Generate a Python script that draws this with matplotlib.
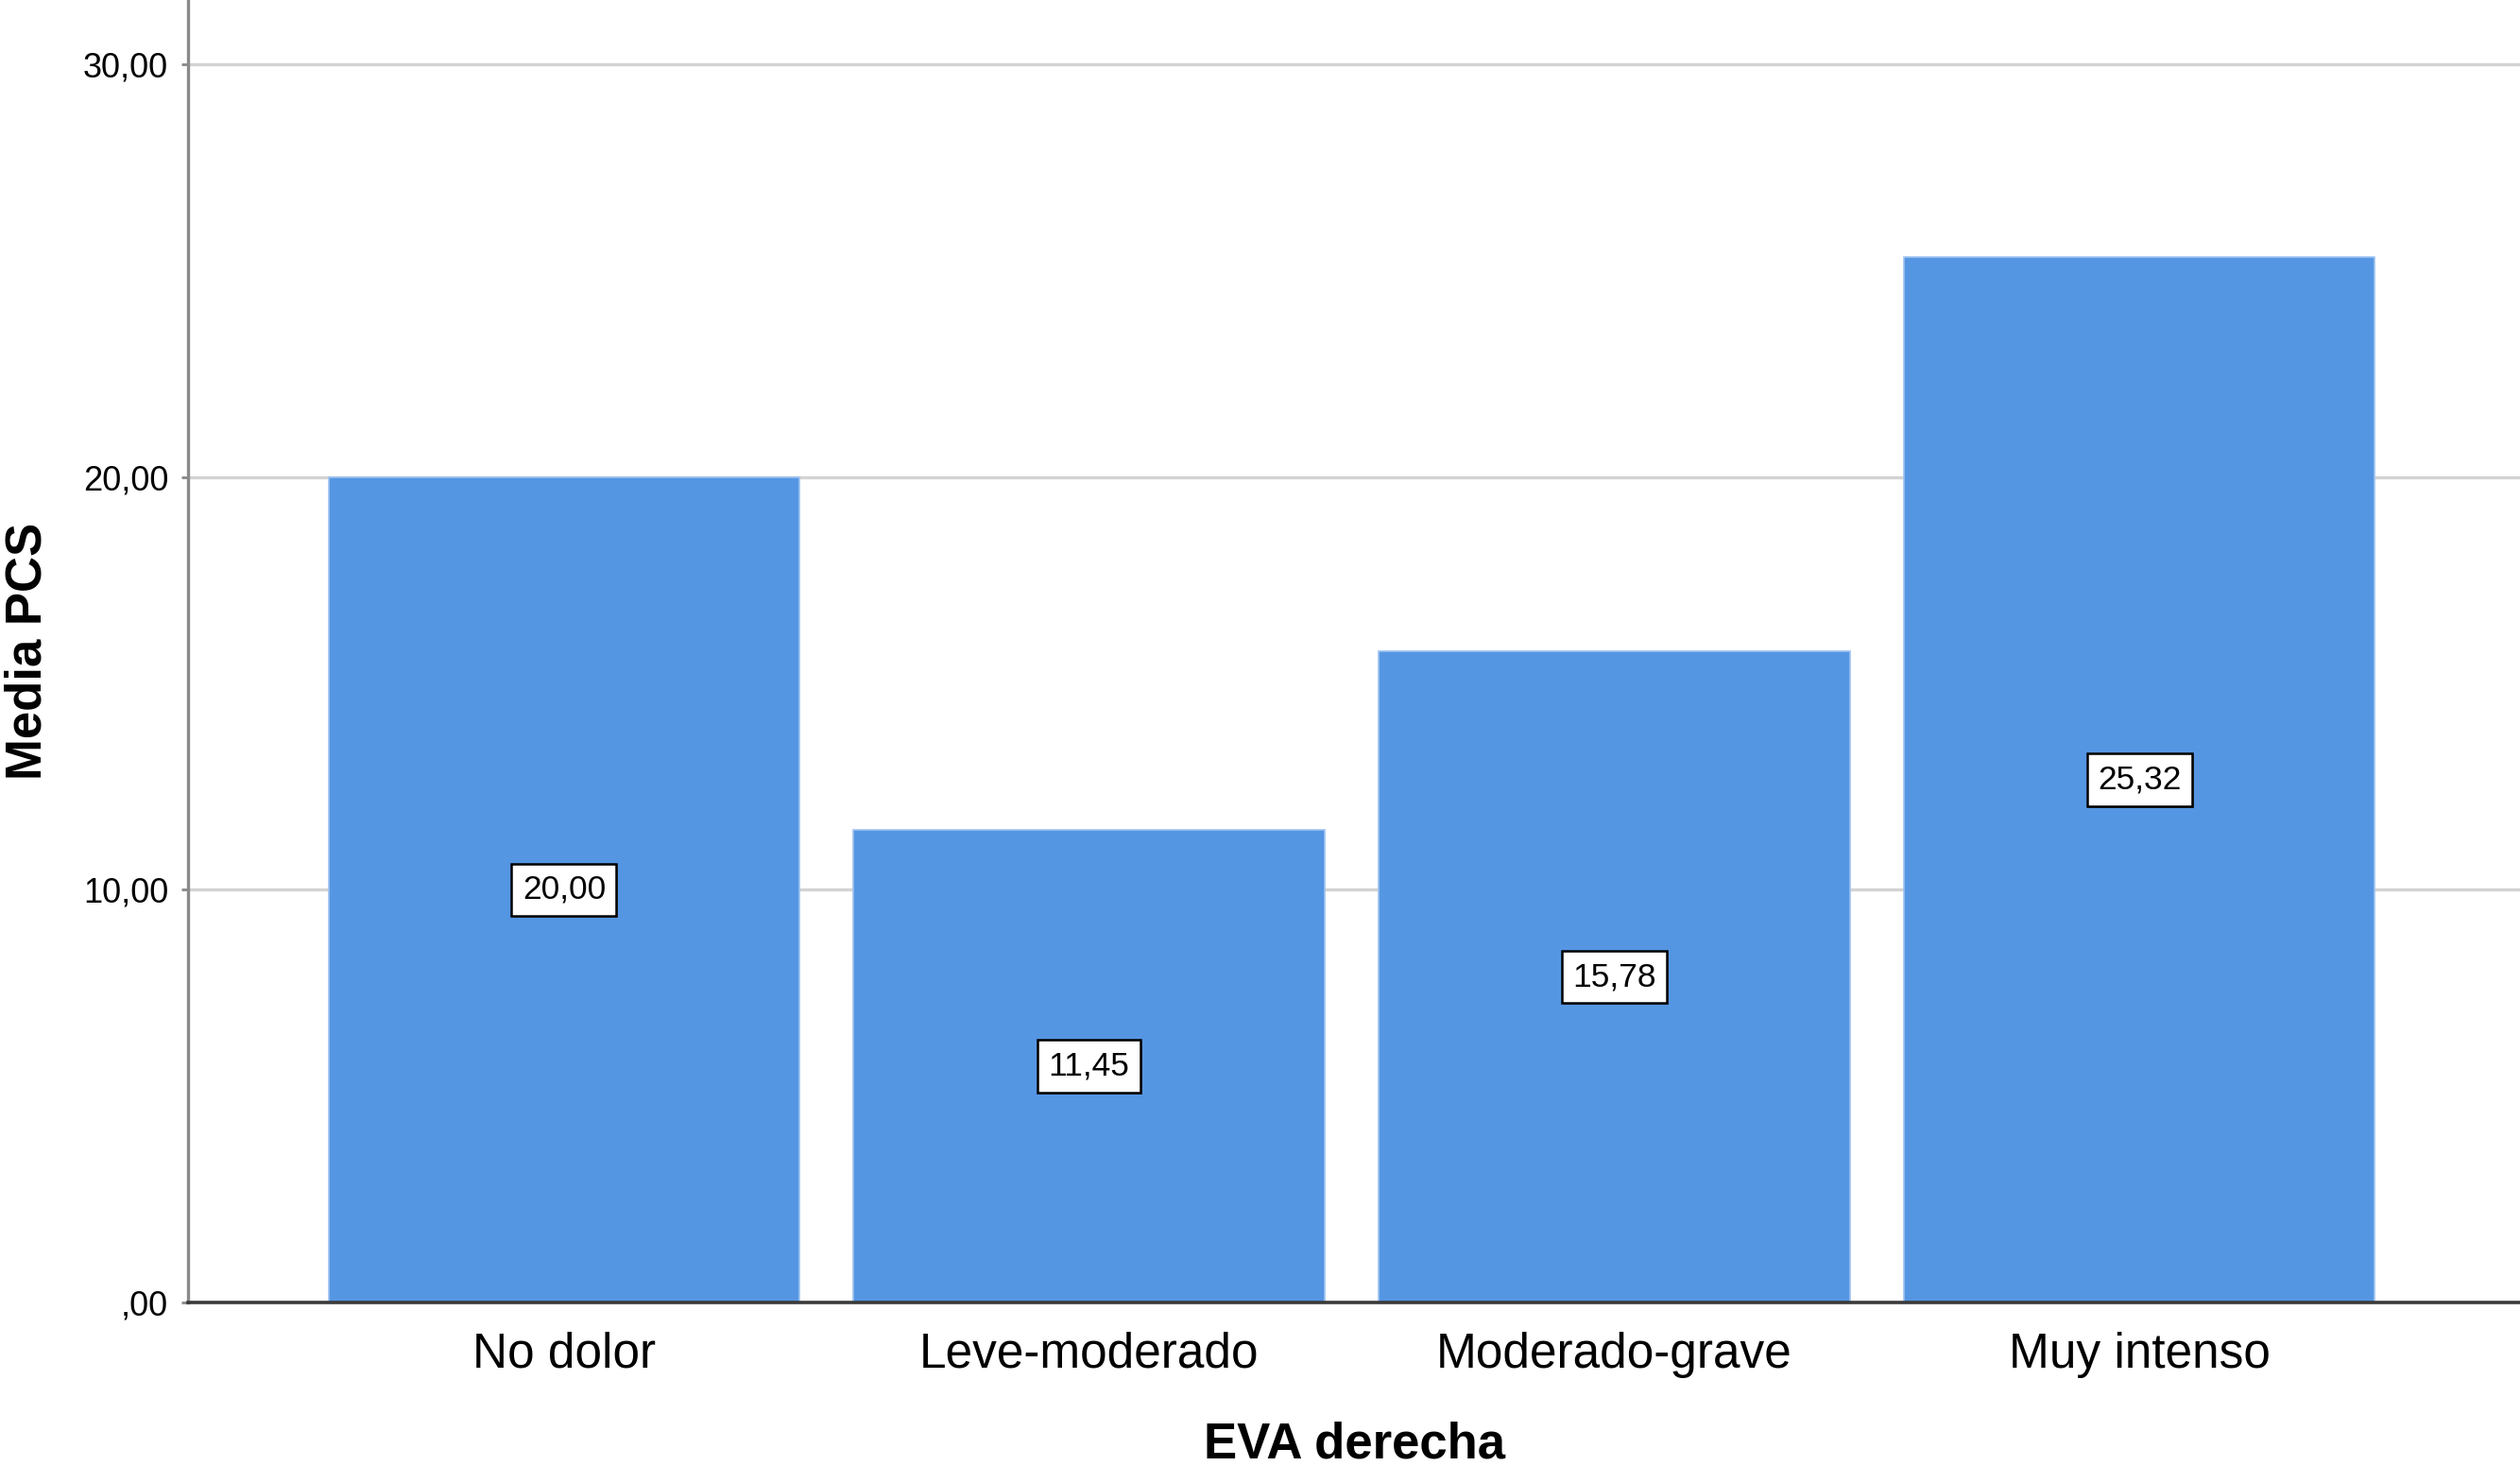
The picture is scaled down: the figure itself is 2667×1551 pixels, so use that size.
import matplotlib
matplotlib.use("Agg")
import matplotlib.pyplot as plt
import matplotlib.patheffects as pe

# data
categories = ["No dolor", "Leve-moderado", "Moderado-grave", "Muy intenso"]
media_pcs = [20.00, 11.45, 15.78, 25.32]
value_labels = ["20,00", "11,45", "15,78", "25,32"]
y_ticks = [0, 10, 20, 30]
y_tick_labels = [",00", "10,00", "20,00", "30,00"]

BAR_COLOR = "#5596e3"
DPI = 100

plt.rcParams["font.family"] = ["Liberation Sans", "DejaVu Sans"]

fig = plt.figure(figsize=(2667 / DPI, 1551 / DPI), dpi=DPI)
ax = fig.add_axes([199 / 2667, 173 / 1551, 1 - 199 / 2667, 1378 / 1551])

x = list(range(len(categories)))
ax.bar(x, media_pcs, width=0.897, color=BAR_COLOR, edgecolor="#9cc2f0",
       linewidth=1.2, zorder=3)

# value labels in boxed tags at half bar height
for xi, v, lab in zip(x, media_pcs, value_labels):
    t = ax.text(xi, v / 2, lab, ha="center", va="center", fontsize=25.5,
                color="black", zorder=5,
                bbox=dict(boxstyle="square,pad=0.32", facecolor="white",
                          edgecolor="black", linewidth=1.8))
    t.get_bbox_patch().set_path_effects(
        [pe.SimplePatchShadow(offset=(1.5, -1.5), shadow_rgbFace="#555555",
                              alpha=0.8), pe.Normal()])

ax.set_xlim(-0.716, 3.725)
ax.set_ylim(0, 31.56)

ax.set_xticks(x)
ax.set_xticklabels(categories, fontsize=37)
ax.set_yticks(y_ticks)
ax.set_yticklabels(y_tick_labels, fontsize=26)
ax.tick_params(axis="x", length=0, pad=22)
ax.tick_params(axis="y", length=5, width=2, color="#888888", pad=10)

ax.yaxis.grid(True, color="#d3d3d3", linewidth=2.4, zorder=0)
ax.set_axisbelow(True)

for side in ("top", "right"):
    ax.spines[side].set_visible(False)
ax.spines["left"].set_color("#8a8a8a")
ax.spines["left"].set_linewidth(2.4)
ax.spines["bottom"].set_color("#3a3a3a")
ax.spines["bottom"].set_linewidth(2.6)
ax.spines["bottom"].set_zorder(4)

ax.set_xlabel("EVA derecha", fontsize=38, fontweight="bold", labelpad=33)
ax.set_ylabel("Media PCS", fontsize=38, fontweight="bold", labelpad=24)

fig.savefig("out.png", dpi=DPI, facecolor="white")
